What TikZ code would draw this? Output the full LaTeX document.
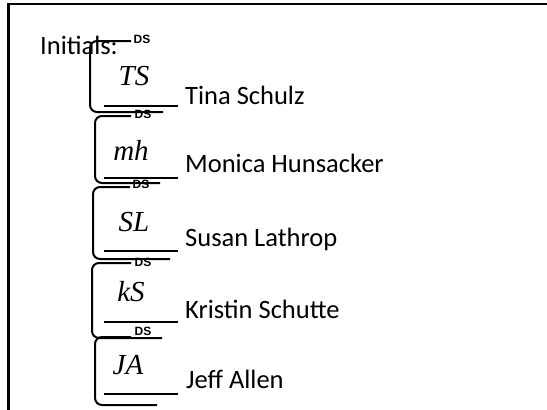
\documentclass[tikz,border=0pt]{standalone}
\usepackage{fontspec}
\setmainfont{Carlito}
\newfontfamily\dsfont{Liberation Sans}
\newfontfamily\handfont{Liberation Serif}
\begin{document}
\begin{tikzpicture}[x=1pt,y=-1pt,
  frameline/.style={line width=2.4pt,black},
  bracket/.style={line width=2pt,rounded corners=7pt},
  sigline/.style={line width=1.6pt},
  personname/.style={anchor=base west,inner sep=0pt,font=\fontsize{26.5}{29}\selectfont},
  dslabel/.style={inner sep=0pt,font=\dsfont\bfseries\fontsize{12}{13}\selectfont},
  hand/.style={inner sep=0pt,font=\handfont\itshape\fontsize{29}{31}\selectfont}]
\useasboundingbox (0,0) rectangle (547,410);
% frame
\draw[frameline] (547,4) -- (8.5,4) -- (8.5,410);
\node[personname] (initials) at (40,54) {Initials:};
% block 1
\draw[bracket] (131,41) -- (90,41) -- (90,112) -- (163,112);
\node[dslabel] (ds1) at (142,39) {DS};
\draw[sigline] (104,106) -- (178,106);
\node[hand] (i1) at (134,76) {TS};
\node[personname] (n1) at (185,104) {Tina Schulz};
% block 2
\draw[bracket] (131,116) -- (95,116) -- (95,183) -- (160,183);
\node[dslabel] (ds2) at (143,114) {DS};
\draw[sigline] (104,178) -- (178,178);
\node[hand] (i2) at (131,150) {mh};
\node[personname] (n2) at (185,172) {Monica Hunsacker};
% block 3
\draw[bracket] (130,187) -- (93,187) -- (93,259) -- (170,259);
\node[dslabel] (ds3) at (141,184) {DS};
\draw[sigline] (104,251) -- (178,251);
\node[hand] (i3) at (134,222) {SL};
\node[personname] (n3) at (185,246) {Susan Lathrop};
% block 4
\draw[bracket] (131,263) -- (92,263) -- (92,338) -- (162,338);
\node[dslabel] (ds4) at (143,262) {DS};
\draw[sigline] (104,322) -- (178,322);
\node[hand] (i4) at (131,292) {kS};
\node[personname] (n4) at (185,318) {Kristin Schutte};
% block 5
\draw[bracket] (131,337) -- (95,337) -- (95,405) -- (157,405);
\node[dslabel] (ds5) at (143,331) {DS};
\draw[sigline] (104,394) -- (178,394);
\node[hand] (i5) at (128,365) {JA};
\node[personname] (n5) at (186,388) {Jeff Allen};
\end{tikzpicture}
\end{document}
